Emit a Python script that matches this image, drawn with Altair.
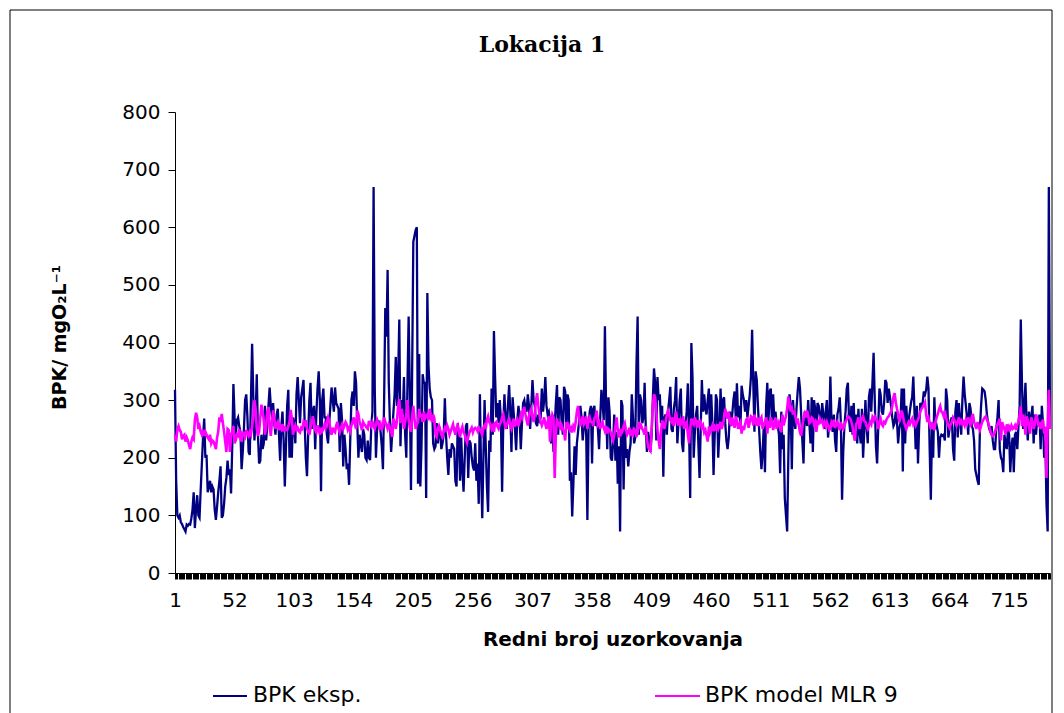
import altair as alt
import pandas as pd

# BPK measured (experimental), samples 1..750
bpk_eksp = [
    # 1-64
    318, 160, 100, 96, 100, 88, 85, 80, 76, 72, 84, 82, 85, 84, 95, 110, 140, 78, 110, 135,
    100, 96, 145, 190, 235, 268, 200, 205, 140, 150, 160, 140, 150, 145, 110, 92, 115, 140, 160, 185,
    96, 100, 120, 150, 165, 195, 170, 180, 138, 220, 328, 270, 240, 265, 270, 255, 245, 180, 210, 250,
    300, 310, 270, 210,
    # 65-129
    205, 300, 398, 310, 230, 270, 345, 240, 190, 195,
    240, 215, 225, 290, 230, 255, 290, 322, 290, 270,
    295, 260, 240, 275, 285, 240, 195, 255, 280, 230,
    150, 220, 290, 318, 200, 275, 200, 270, 260, 225,
    310, 340, 300, 260, 305, 320, 335, 260, 200, 168,
    240, 300, 330, 250, 280, 290, 215, 275, 320, 350,
    300, 142, 300, 320, 270,
    # 130-193
    270, 240, 225, 260, 290, 322, 300, 280, 322, 295,
    290, 285, 210, 295, 265, 185, 240, 215, 180, 190,
    153, 230, 300, 315, 290, 350, 330, 260, 200, 240,
    225, 210, 250, 240, 200, 196, 230, 200, 196, 255,
    280, 670, 320, 200, 250, 265, 255, 245, 220, 180,
    300, 460, 410, 526, 330, 260, 210, 245, 280, 310,
    375, 290, 340, 440,
    # 194-257
    220, 300, 275, 340, 240, 200, 330, 445, 320, 144,
    350, 575, 585, 595, 600, 155, 380, 150, 220, 345,
    330, 330, 130, 486, 360, 320, 305, 300, 225, 215,
    220, 260, 225, 255, 245, 215, 225, 240, 303, 240,
    200, 170, 215, 200, 225, 220, 215, 160, 150, 260,
    240, 160, 235, 180, 141, 200, 255, 260, 165, 230,
    225, 200, 185, 178,
    # 258-322
    225, 160, 190, 120, 310, 180, 95, 200, 300, 220,
    150, 106, 230, 210, 320, 240, 420, 340, 270, 295,
    260, 300, 265, 141, 260, 310, 265, 250, 290, 326,
    280, 210, 305, 275, 250, 213, 265, 290, 270, 215,
    260, 295, 300, 285, 280, 310, 290, 250, 290, 335,
    300, 290, 260, 255, 275, 265, 270, 320, 280, 300,
    340, 290, 275, 280, 265,
    # 323-386
    225, 265, 210, 255, 295, 326, 240, 305, 300, 260,
    240, 323, 315, 255, 310, 300, 160, 175, 98, 155,
    220, 170, 225, 245, 265, 290, 270, 230, 255, 280,
    240, 92, 250, 280, 290, 190, 285, 290, 255, 275,
    250, 215, 270, 318, 295, 265, 428, 290, 215, 305,
    280, 200, 195, 225, 275, 195, 245, 155, 220, 72,
    300, 290, 145, 260,
    # 387-450
    200, 215, 185, 210, 225, 310, 270, 225, 235, 360,
    445, 240, 310, 300, 260, 270, 330, 250, 210, 245,
    230, 210, 240, 300, 355, 330, 230, 340, 300, 310,
    260, 290, 167, 270, 275, 240, 280, 300, 323, 250,
    245, 285, 300, 340, 225, 260, 300, 320, 225, 210,
    265, 255, 280, 329, 255, 130, 399, 340, 200, 245,
    275, 290, 225, 165,
    # 451-514
    250, 335, 280, 310, 285, 275, 300, 320, 245, 310,
    260, 170, 240, 310, 300, 200, 245, 320, 260, 300,
    305, 260, 230, 215, 235, 280, 255, 275, 300, 315,
    270, 329, 270, 290, 250, 325, 310, 300, 280, 300,
    270, 290, 310, 340, 422, 330, 245, 350, 335, 290,
    250, 210, 180, 210, 255, 175, 290, 330, 260, 315,
    320, 260, 310, 265,
    # 515-578
    280, 260, 255, 240, 173, 280, 215, 240, 130, 100,
    72, 200, 310, 290, 180, 300, 265, 250, 285, 315,
    340, 320, 275, 230, 190, 280, 275, 255, 300, 260,
    225, 305, 210, 300, 285, 250, 295, 290, 270, 265,
    295, 275, 250, 280, 300, 235, 260, 341, 260, 245,
    275, 230, 210, 275, 285, 305, 260, 127, 210, 255,
    280, 320, 330, 265,
    # 579-643
    245, 290, 240, 295, 230, 275, 225, 285, 245, 225,
    285, 200, 245, 300, 255, 225, 305, 320, 280, 330,
    382, 300, 220, 190, 255, 320, 310, 280, 275, 295,
    335, 330, 295, 320, 305, 290, 270, 255, 260, 280,
    265, 225, 250, 260, 320, 176, 320, 225, 290, 255,
    265, 280, 295, 305, 341, 280, 215, 290, 190, 255,
    295, 290, 295, 315, 310,
    # 644-707
    318, 341, 320, 215, 127, 250, 200, 305, 250, 255,
    245, 200, 235, 240, 238, 240, 230, 320, 300, 235,
    250, 265, 270, 215, 195, 280, 300, 235, 295, 265,
    240, 300, 341, 310, 290, 270, 240, 295, 285, 255,
    250, 230, 180, 170, 160, 153, 250, 290, 320, 318,
    315, 300, 275, 260, 250, 245, 255, 230, 215, 215,
    250, 270, 300, 215,
    # 708-750
    200, 195, 175, 240, 225, 215, 250, 240, 175, 220,
    235, 175, 240, 245, 215, 255, 290, 440, 330, 250,
    290, 330, 260, 230, 280, 255, 270, 290, 225, 275,
    240, 265, 260, 275, 215, 290, 260, 200, 230, 120,
    72, 670, 255,
]

# BPK from model MLR 9, samples 1..750
bpk_model = [
    # 1-64
    240, 228, 250, 255, 248, 245, 232, 238, 240, 228, 235, 230, 222, 215, 228, 235, 232, 265, 278, 270,
    250, 255, 245, 240, 248, 238, 245, 240, 235, 232, 240, 225, 230, 228, 222, 215, 235, 245, 270, 262,
    276, 260, 245, 228, 210, 250, 248, 210, 240, 245, 255, 225, 230, 240, 238, 250, 235, 228, 245, 240,
    236, 248, 242, 238,
    # 65-129
    245, 240, 255, 270, 300, 285, 250, 238, 245, 270,
    292, 280, 265, 240, 252, 280, 288, 255, 238, 262,
    282, 270, 250, 258, 262, 248, 255, 250, 258, 246,
    252, 250, 248, 255, 262, 283, 268, 240, 250, 256,
    248, 252, 246, 244, 252, 250, 262, 258, 265, 250,
    246, 240, 252, 260, 272, 262, 248, 244, 256, 250,
    240, 252, 246, 250, 258,
    # 130-193
    252, 262, 270, 264, 248, 240, 252, 246, 244, 256,
    262, 250, 244, 252, 258, 250, 256, 262, 258, 248,
    252, 246, 256, 262, 270, 258, 250, 282, 276, 262,
    256, 248, 262, 258, 256, 252, 250, 264, 258, 254,
    262, 256, 250, 258, 266, 260, 252, 258, 248, 256,
    270, 262, 256, 250, 258, 254, 244, 236, 268, 262,
    250, 264, 290, 302,
    # 194-257
    260, 285, 270, 250, 262, 275, 300, 266, 252, 245,
    272, 290, 268, 250, 258, 262, 285, 270, 276, 262,
    280, 268, 272, 275, 265, 285, 270, 262, 275, 268,
    240, 236, 250, 255, 248, 240, 236, 245, 252, 248,
    256, 250, 240, 246, 252, 258, 248, 240, 252, 256,
    246, 236, 248, 254, 244, 240, 232, 226, 236, 244,
    248, 252, 244, 250,
    # 258-322
    252, 250, 246, 255, 248, 244, 240, 252, 256, 250,
    266, 272, 262, 258, 250, 255, 245, 260, 262, 254,
    250, 258, 262, 270, 275, 262, 250, 258, 262, 270,
    255, 250, 262, 268, 254, 260, 265, 255, 262, 275,
    270, 282, 288, 275, 265, 256, 272, 280, 285, 270,
    262, 275, 300, 312, 290, 275, 262, 256, 262, 270,
    258, 250, 262, 272, 228,
    # 323-386
    262, 275, 270, 165, 240, 268, 255, 262, 248, 256,
    250, 245, 230, 262, 250, 256, 248, 252, 244, 255,
    250, 262, 280, 290, 270, 255, 262, 272, 258, 262,
    272, 250, 265, 270, 262, 262, 255, 268, 272, 282,
    258, 262, 250, 258, 262, 252, 246, 255, 242, 250,
    248, 244, 236, 230, 240, 255, 270, 248, 235, 250,
    242, 246, 255, 260,
    # 387-450
    248, 240, 245, 252, 238, 244, 240, 250, 248, 236,
    244, 262, 250, 256, 250, 246, 240, 255, 232, 218,
    215, 212, 250, 292, 310, 305, 280, 248, 230, 215,
    245, 265, 258, 250, 262, 275, 282, 275, 265, 262,
    270, 255, 266, 280, 262, 256, 268, 258, 262, 272,
    250, 260, 262, 240, 225, 250, 268, 262, 258, 270,
    262, 252, 265, 258,
    # 451-514
    262, 252, 256, 244, 248, 238, 228, 254, 244, 250,
    256, 246, 254, 250, 258, 250, 256, 262, 250, 258,
    268, 285, 275, 268, 280, 262, 256, 270, 260, 252,
    272, 264, 250, 258, 262, 242, 255, 248, 258, 266,
    268, 252, 262, 272, 270, 256, 275, 262, 256, 270,
    255, 266, 270, 250, 258, 262, 270, 242, 264, 252,
    270, 262, 248, 258,
    # 515-578
    270, 250, 256, 262, 256, 244, 275, 256, 265, 272,
    285, 306, 295, 280, 286, 275, 282, 272, 262, 268,
    256, 244, 238, 256, 268, 276, 270, 282, 274, 260,
    262, 270, 268, 258, 262, 245, 262, 260, 268, 262,
    264, 256, 262, 255, 262, 256, 248, 250, 262, 258,
    266, 252, 258, 262, 255, 248, 262, 254, 250, 256,
    262, 266, 272, 270,
    # 579-643
    268, 262, 254, 240, 230, 258, 262, 270, 250, 262,
    268, 272, 264, 262, 255, 250, 256, 262, 258, 270,
    265, 272, 268, 262, 250, 262, 268, 258, 255, 262,
    260, 266, 270, 272, 276, 280, 290, 305, 312, 296,
    285, 276, 262, 270, 282, 275, 262, 256, 250, 256,
    262, 258, 264, 268, 258, 262, 256, 262, 266, 272,
    280, 285, 288, 292, 296,
    # 644-707
    275, 262, 268, 258, 250, 262, 255, 248, 262, 270,
    276, 285, 290, 280, 278, 272, 282, 270, 262, 256,
    252, 258, 262, 270, 266, 262, 256, 262, 270, 260,
    264, 258, 262, 256, 266, 260, 270, 262, 258, 270,
    276, 262, 256, 250, 262, 255, 248, 256, 262, 266,
    270, 272, 266, 262, 254, 246, 240, 238, 240, 246,
    252, 258, 262, 268,
    # 708-750
    230, 262, 255, 250, 240, 258, 246, 254, 250, 256,
    250, 252, 256, 248, 258, 262, 275, 289, 255, 275,
    262, 240, 272, 265, 255, 242, 270, 262, 250, 258,
    275, 270, 255, 262, 250, 260, 266, 242, 254, 165,
    255, 318, 250,
]

y_ticks = [0, 100, 200, 300, 400, 500, 600, 700, 800]
label_step = 51  # x labels: 1, 52, 103, ... 715

series_names = ["BPK eksp.", "BPK model MLR 9"]
series_colors = ["#000080", "#FF00FF"]

n = len(bpk_eksp)
df_e = pd.DataFrame({"i": list(range(1, len(bpk_eksp) + 1)), "v": bpk_eksp})
df_m = pd.DataFrame({"i": list(range(1, len(bpk_model) + 1)), "v": bpk_model})

FONT = "DejaVu Sans"

x_enc = alt.X(
    "i:Q",
    scale=alt.Scale(domain=[1, n], nice=False, zero=False),
    axis=alt.Axis(
        values=list(range(1, n + 1)),
        tickCount=n + 10,
        labelExpr=f"(datum.value - 1) % {label_step} == 0 ? datum.label : ''",
        format="d",
        labelOverlap=False,
        labelFlush=False,
        labelFont=FONT,
        labelFontSize=20,
        labelColor="black",
        labelPadding=11,
        tickSize=6,
        tickColor="black",
        tickWidth=1,
        domainColor="black",
        domainWidth=1,
        grid=False,
        title="Redni broj uzorkovanja",
        titleFont=FONT,
        titleFontSize=20,
        titleFontWeight="bold",
        titleColor="black",
        titlePadding=19,
    ),
)

y_enc = alt.Y(
    "v:Q",
    scale=alt.Scale(domain=[0, 800], nice=False),
    axis=alt.Axis(
        values=y_ticks,
        labelFont=FONT,
        labelFontSize=20,
        labelColor="black",
        labelPadding=8,
        tickSize=7,
        tickColor="black",
        domainColor="black",
        grid=False,
        title="BPK/ mgO₂L⁻¹",
        titleFont=FONT,
        titleFontSize=19,
        titleFontWeight="bold",
        titleColor="black",
        titleAngle=-90,
        titleAlign="center",
        titleBaseline="bottom",
        titleX=-106,
        titleY=225,
    ),
)

line_e = alt.Chart(df_e).mark_line(color=series_colors[0], strokeWidth=2.3).encode(x=x_enc, y=y_enc)
line_m = alt.Chart(df_m).mark_line(color=series_colors[1], strokeWidth=2.6).encode(x="i:Q", y="v:Q")

one = alt.Data(values=[{}])

frame = alt.Chart(one).mark_rect(fill="white", fillOpacity=0, stroke="black", strokeWidth=1).encode(
    x=alt.value(-165), x2=alt.value(877), y=alt.value(-102), y2=alt.value(650)
)

title = alt.Chart(one).mark_text(
    font="DejaVu Serif", fontSize=22, fontWeight="bold", color="black",
    align="center", baseline="middle"
).encode(x=alt.value(367), y=alt.value(-67), text=alt.value("Lokacija 1"))

leg_line_e = alt.Chart(one).mark_rule(color=series_colors[0], strokeWidth=2).encode(
    x=alt.value(38), x2=alt.value(72), y=alt.value(584)
)
leg_text_e = alt.Chart(one).mark_text(
    font=FONT, fontSize=22, color="black", align="left", baseline="middle"
).encode(x=alt.value(78), y=alt.value(583), text=alt.value(series_names[0]))
leg_line_m = alt.Chart(one).mark_rule(color=series_colors[1], strokeWidth=2).encode(
    x=alt.value(480), x2=alt.value(525), y=alt.value(584)
)
leg_text_m = alt.Chart(one).mark_text(
    font=FONT, fontSize=22, color="black", align="left", baseline="middle"
).encode(x=alt.value(530), y=alt.value(583), text=alt.value(series_names[1]))

chart = alt.layer(
    frame, line_e, line_m, title, leg_line_e, leg_text_e, leg_line_m, leg_text_m
).properties(
    width=875,
    height=461,
    autosize=alt.AutoSizeParams(type="none"),
    padding={"left": 167, "top": 104, "right": 6, "bottom": 140},
    background="white",
).configure_view(strokeWidth=0)

chart.save("out.html", embed_options={"renderer": "svg", "actions": False})
